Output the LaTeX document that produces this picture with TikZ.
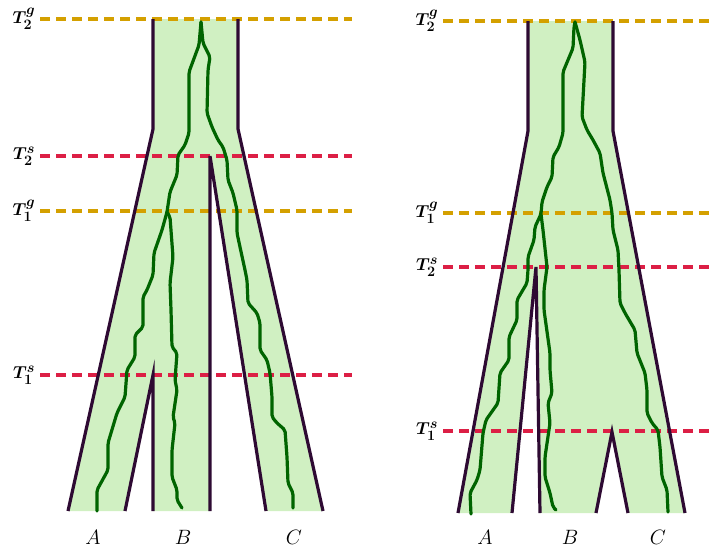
\documentclass[tikz,border=0pt]{standalone}
\usepackage{amsmath,bm}
\definecolor{goldc}{HTML}{D4A000}
\definecolor{crim}{HTML}{DC1F45}
\definecolor{outl}{HTML}{2E0A33}
\definecolor{fillg}{HTML}{D0F0C2}
\definecolor{geneg}{HTML}{006400}
\tikzset{
  gline/.style={goldc, line width=3.2pt, dash pattern=on 10pt off 6pt},
  sline/.style={crim, line width=3.2pt, dash pattern=on 10pt off 6pt},
  outline/.style={outl, line width=3.2pt},
  gene/.style={geneg, line width=3.2pt, line join=round, line cap=round, rounded corners=2pt},
  tlab/.style={font=\fontsize{19}{22}\selectfont\boldmath, inner sep=0pt},
  leaf/.style={font=\fontsize{20}{24}\selectfont, inner sep=0pt},
}
\begin{document}
\begin{tikzpicture}[x=1pt,y=-1pt]
\useasboundingbox (0,0) rectangle (715,550);
% ===== Left panel =====
\fill[fillg] (153,19) -- (238,19) -- (238,129) -- (323,511) -- (266,511) -- (210,156) -- (210,511) -- (153,511) -- (153,375) -- (125,511) -- (68,511) -- (153,129) -- cycle;
\node[tlab] (lg2) at (24,19) {$T_2^g$};
\node[tlab] (ls2) at (24,156) {$T_2^s$};
\node[tlab] (lg1) at (24,211) {$T_1^g$};
\node[tlab] (ls1) at (24,375) {$T_1^s$};
\coordinate (lg2s) at (40,19);
\coordinate (ls2s) at (40,156);
\coordinate (lg1s) at (40,211);
\coordinate (ls1s) at (40,375);
\coordinate (lg2e) at (352,19);
\coordinate (ls2e) at (352,156);
\coordinate (lg1e) at (352,211);
\coordinate (ls1e) at (352,375);
\draw[gline] (lg2s) -- (lg2e);
\draw[sline] (ls2s) -- (ls2e);
\draw[gline] (lg1s) -- (lg1e);
\draw[sline] (ls1s) -- (ls1e);
% outlines
\draw[outline] (153,19) -- (153,129) -- (68,511);
\draw[outline] (238,19) -- (238,129) -- (323,511);
\draw[outline] (210,511) -- (210,156) -- (266,511);
\draw[outline] (125,511) -- (153,375) -- (153,511);
% genes
\draw[gene] (201,22) -- (199,45) -- (189,72) -- (189,133) -- (185,145) -- (178,155) -- (177,175) -- (170,192) -- (167,212)
  -- (162,230) -- (154,253) -- (153,275) -- (147,290) -- (143,297) -- (143,327) -- (135,335) -- (135,357) -- (127,370) -- (125,397) -- (117,413) -- (108,443) -- (108,470) -- (97,490) -- (97,511);
\draw[gene] (167,212) -- (170,217) -- (173,257) -- (170,283) -- (171,310) -- (172,347) -- (177,353) -- (175,380) -- (177,390) -- (173,417) -- (175,423) -- (172,450) -- (172,477) -- (177,490) -- (177,500) -- (182,508);
\draw[gene] (201,22) -- (203,43) -- (210,57) -- (208,70) -- (207,113) -- (212,127) -- (218,140) -- (223,147) -- (227,160) -- (228,180) -- (233,193) -- (237,210) -- (237,233) -- (240,247) -- (245,270) -- (247,280) -- (248,303) -- (257,313) -- (260,323) -- (260,350) -- (267,360) -- (270,373) -- (272,397) -- (272,417) -- (277,423) -- (285,430) -- (287,457) -- (288,483) -- (293,493) -- (293,508);
\node[leaf] (la) at (93,537) {$A$};
\node[leaf] (lb) at (183,537) {$B$};
\node[leaf] (lc) at (294,537) {$C$};
% ===== Right panel =====
\fill[fillg] (528,21) -- (613,21) -- (613,131) -- (685,513) -- (628,513) -- (612,432) -- (596,513) -- (540,513) -- (536,267) -- (512,513) -- (458,513) -- (528,131) -- cycle;
\node[tlab] (rg2) at (427,21) {$T_2^g$};
\node[tlab] (rg1) at (427,213) {$T_1^g$};
\node[tlab] (rs2) at (427,267) {$T_2^s$};
\node[tlab] (rs1) at (427,431) {$T_1^s$};
\coordinate (rg2s) at (443,21);
\coordinate (rg1s) at (443,213);
\coordinate (rs2s) at (443,267);
\coordinate (rs1s) at (443,431);
\coordinate (rg2e) at (715,21);
\coordinate (rg1e) at (715,213);
\coordinate (rs2e) at (715,267);
\coordinate (rs1e) at (715,431);
\draw[gline] (rg2s) -- (rg2e);
\draw[gline] (rg1s) -- (rg1e);
\draw[sline] (rs2s) -- (rs2e);
\draw[sline] (rs1s) -- (rs1e);
\draw[outline] (528,21) -- (528,131) -- (458,513);
\draw[outline] (613,21) -- (613,131) -- (685,513);
\draw[outline] (512,513) -- (536,267) -- (540,513);
\draw[outline] (596,513) -- (612,432) -- (628,513);
\draw[gene] (575,22) -- (574,27) -- (573,48) -- (563,72) -- (563,133) -- (559,147) -- (553,157) -- (552,177) -- (547,187) -- (542,202) -- (541,214)
  -- (535,227) -- (534,240) -- (528,257) -- (528,270) -- (527,283) -- (517,300) -- (517,320) -- (509,337) -- (509,360) -- (500,373) -- (498,403) -- (486,420) -- (483,433) -- (480,470) -- (477,480) -- (470,493) -- (471,514);
\draw[gene] (541,214) -- (543,230) -- (547,267) -- (544,290) -- (544,310) -- (550,353) -- (550,370) -- (552,393) -- (548,403) -- (550,423) -- (545,457) -- (545,477) -- (550,493) -- (553,507) -- (556,510);
\draw[gene] (575,22) -- (580,40) -- (585,62) -- (582,117) -- (587,130) -- (593,140) -- (600,153) -- (603,173) -- (610,200) -- (612,213) -- (613,230) -- (618,250) -- (619,270) -- (620,303) -- (625,313) -- (635,330) -- (637,353) -- (645,373) -- (647,390) -- (647,413) -- (652,423) -- (658,430) -- (660,447) -- (662,477) -- (667,490) -- (668,512);
\node[leaf] (ra) at (485,537) {$A$};
\node[leaf] (rb) at (570,537) {$B$};
\node[leaf] (rc) at (658,537) {$C$};
\end{tikzpicture}
\end{document}
